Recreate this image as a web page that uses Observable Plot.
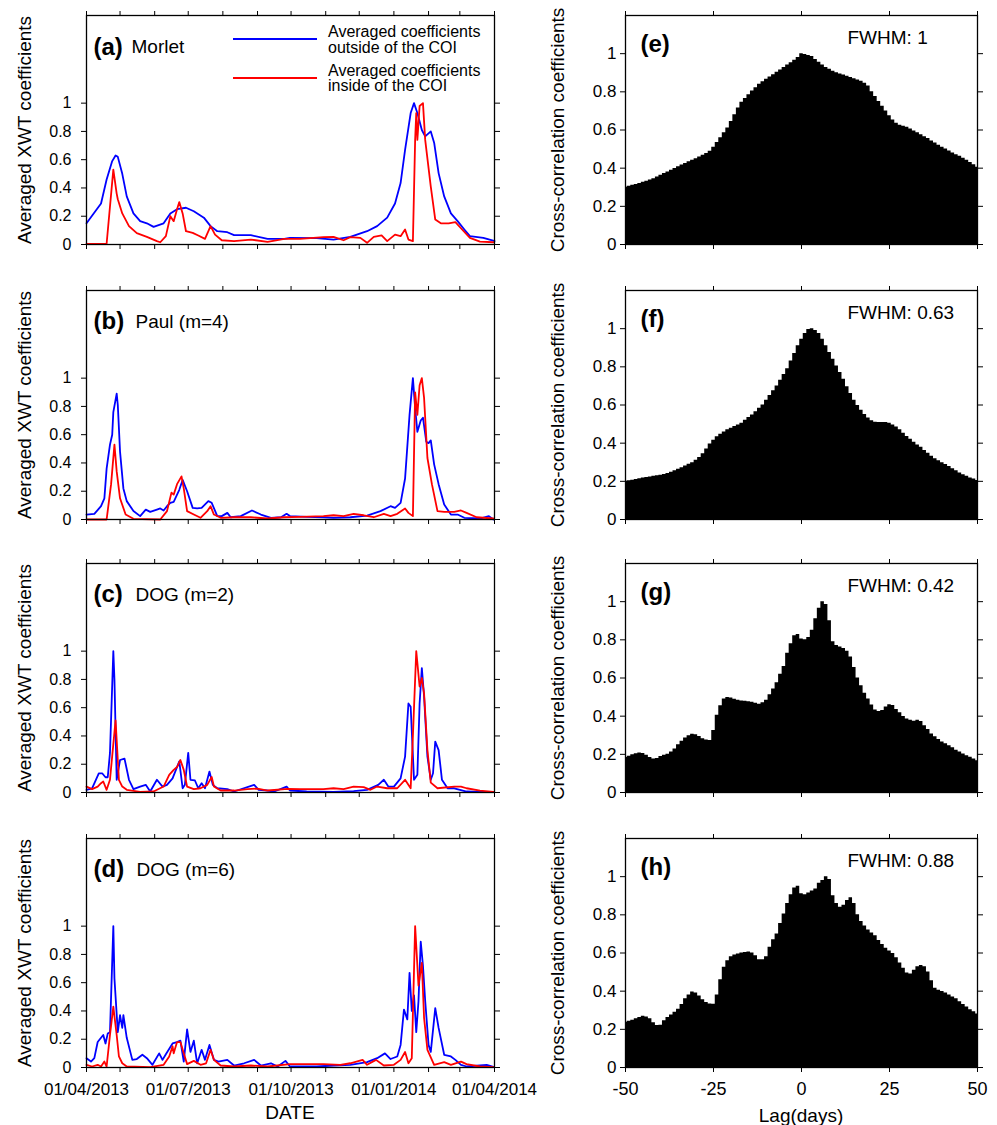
<!DOCTYPE html>
<html><head><meta charset="utf-8">
<script src="https://cdn.jsdelivr.net/npm/d3@7"></script>
<script src="https://cdn.jsdelivr.net/npm/@observablehq/plot@0.6"></script>
<style>
body{margin:0;background:#fff;font-family:"Liberation Sans",Arial,Helvetica,sans-serif;}
#chart{position:relative;width:997px;height:1125px;overflow:hidden;}
.t{position:absolute;white-space:nowrap;color:#000;line-height:1;}
.c{transform:translate(-50%,-50%);}
.r{transform:translate(-50%,-50%) rotate(-90deg);}
</style></head><body><div id="chart"></div>
<script>
// ---- Time-series data: [days since 01/04/2013, value] ----
const morletOutside = [[0,0.15],[13,0.29],[18,0.46],[23,0.59],[26,0.63],[28,0.62],[32,0.5],[36,0.34],[42,0.22],[48,0.165],[54,0.15],[60,0.125],[69,0.15],[75,0.22],[81,0.25],[89,0.26],[96,0.235],[105,0.19],[111,0.13],[117,0.094],[126,0.087],[132,0.066],[147,0.066],[162,0.04],[177,0.04],[182,0.047],[206,0.045],[221,0.035],[236,0.054],[251,0.094],[260,0.13],[269,0.19],[276,0.29],[281,0.435],[285,0.67],[290,0.93],[293,1.0],[296,0.93],[300,0.81],[303,0.765],[308,0.8],[311,0.72],[315,0.505],[320,0.34],[326,0.22],[332,0.165],[338,0.106],[343,0.059],[355,0.047],[363,0.03],[365,0.024]];
const morletInside = [[0,0.005],[18,0.005],[24,0.53],[27,0.36],[28,0.32],[32,0.22],[38,0.13],[45,0.08],[54,0.054],[63,0.024],[66,0.016],[71,0.059],[75,0.2],[78,0.165],[81,0.25],[83,0.3],[86,0.22],[89,0.094],[95,0.082],[100,0.064],[106,0.04],[111,0.13],[115,0.07],[121,0.03],[132,0.024],[147,0.035],[162,0.019],[177,0.04],[191,0.04],[212,0.052],[221,0.054],[230,0.03],[236,0.052],[245,0.047],[251,0.012],[257,0.054],[264,0.064],[269,0.024],[276,0.07],[281,0.059],[285,0.106],[288,0.035],[292,0.024],[294,0.74],[295,0.93],[296,0.74],[298,0.98],[301,1.0],[303,0.74],[308,0.41],[312,0.176],[317,0.15],[324,0.15],[330,0.158],[336,0.106],[343,0.047],[352,0.021],[364,0.016]];
const paulOutside = [[0,0.035],[7,0.04],[13,0.094],[16,0.15],[18,0.36],[21,0.53],[23,0.6],[24,0.76],[27,0.89],[28,0.81],[30,0.48],[33,0.22],[36,0.13],[42,0.06],[48,0.024],[53,0.07],[57,0.054],[63,0.07],[66,0.078],[69,0.064],[72,0.094],[75,0.118],[78,0.125],[83,0.21],[86,0.28],[90,0.2],[95,0.082],[99,0.078],[103,0.082],[109,0.13],[112,0.118],[117,0.024],[121,0.024],[126,0.047],[129,0.016],[138,0.024],[148,0.064],[156,0.035],[165,0.012],[174,0.016],[179,0.04],[182,0.024],[197,0.019],[212,0.016],[221,0.012],[236,0.016],[251,0.028],[263,0.059],[272,0.094],[276,0.082],[281,0.118],[285,0.29],[289,0.74],[292,1.0],[294,0.79],[296,0.62],[299,0.7],[301,0.72],[304,0.55],[306,0.54],[308,0.56],[311,0.39],[315,0.25],[320,0.106],[326,0.035],[332,0.035],[338,0.012],[352,0.007],[360,0.024],[364,0.0]];
const paulInside = [[0,0.0],[18,0.0],[22,0.25],[25,0.53],[27,0.34],[30,0.15],[35,0.035],[42,0.005],[66,0.0],[72,0.059],[76,0.19],[78,0.176],[81,0.25],[85,0.305],[87,0.22],[90,0.059],[96,0.035],[102,0.012],[108,0.059],[111,0.094],[114,0.035],[120,0.012],[132,0.016],[147,0.016],[162,0.007],[177,0.016],[191,0.019],[212,0.024],[221,0.03],[230,0.024],[239,0.04],[248,0.03],[257,0.016],[266,0.04],[272,0.024],[278,0.04],[285,0.078],[288,0.047],[292,0.024],[294,0.9],[296,0.74],[298,0.95],[300,1.0],[302,0.86],[305,0.435],[309,0.25],[314,0.059],[320,0.054],[329,0.054],[335,0.064],[340,0.047],[349,0.016],[364,0.007]];
const dog2Outside = [[0,0.019],[5,0.03],[11,0.136],[14,0.136],[17,0.108],[19,0.108],[21,0.28],[24,1.0],[25,0.8],[27,0.09],[30,0.23],[34,0.24],[38,0.09],[42,0.024],[48,0.042],[53,0.054],[57,0.007],[63,0.09],[68,0.042],[72,0.054],[77,0.1],[83,0.22],[86,0.03],[88,0.054],[91,0.28],[93,0.09],[97,0.085],[100,0.03],[103,0.066],[106,0.03],[110,0.148],[113,0.054],[117,0.03],[126,0.024],[132,0.007],[150,0.054],[154,0.019],[162,0.014],[168,0.007],[179,0.042],[182,0.014],[197,0.007],[221,0.005],[239,0.009],[251,0.019],[261,0.054],[266,0.09],[270,0.042],[275,0.042],[281,0.1],[285,0.254],[288,0.63],[290,0.607],[293,0.09],[296,0.125],[298,0.63],[300,0.88],[302,0.68],[305,0.254],[308,0.09],[310,0.136],[312,0.36],[315,0.3],[318,0.09],[323,0.03],[329,0.03],[340,0.007],[352,0.005],[364,0.005]];
const dog2Inside = [[0,0.042],[5,0.024],[10,0.042],[13,0.066],[15,0.078],[18,0.019],[21,0.09],[26,0.51],[29,0.09],[32,0.042],[36,0.019],[48,0.005],[60,0.007],[69,0.042],[74,0.125],[78,0.16],[81,0.18],[84,0.23],[87,0.16],[90,0.042],[96,0.024],[102,0.03],[108,0.054],[112,0.11],[114,0.042],[120,0.014],[132,0.014],[144,0.024],[153,0.028],[162,0.014],[180,0.026],[191,0.024],[212,0.024],[221,0.03],[230,0.024],[239,0.042],[248,0.038],[254,0.019],[260,0.042],[269,0.03],[278,0.03],[285,0.09],[290,0.03],[292,0.4],[295,1.0],[298,0.75],[300,0.81],[302,0.7],[305,0.3],[308,0.07],[314,0.03],[329,0.042],[335,0.042],[340,0.03],[352,0.014],[364,0.005]];
const dog6Outside = [[0,0.066],[4,0.042],[7,0.066],[10,0.18],[13,0.21],[15,0.23],[17,0.17],[19,0.24],[21,0.25],[24,1.0],[25,0.63],[28,0.25],[30,0.37],[32,0.28],[33,0.37],[36,0.21],[41,0.054],[45,0.06],[50,0.09],[54,0.066],[59,0.019],[65,0.1],[68,0.054],[71,0.094],[77,0.17],[81,0.18],[84,0.19],[87,0.042],[90,0.27],[93,0.11],[96,0.19],[99,0.03],[103,0.125],[106,0.054],[110,0.16],[114,0.054],[118,0.042],[126,0.054],[132,0.014],[141,0.03],[150,0.054],[156,0.014],[165,0.03],[171,0.007],[178,0.047],[182,0.007],[206,0.007],[221,0.014],[236,0.019],[251,0.038],[260,0.066],[267,0.1],[272,0.06],[278,0.078],[281,0.16],[284,0.41],[287,0.34],[289,0.67],[291,0.4],[293,0.51],[295,0.25],[297,0.47],[299,0.89],[301,0.72],[303,0.47],[306,0.16],[308,0.11],[312,0.42],[315,0.28],[320,0.09],[326,0.078],[330,0.054],[335,0.019],[340,0.007],[358,0.019],[364,0.005]];
const dog6Inside = [[0,0.019],[5,0.007],[10,0.019],[13,0.007],[16,0.042],[18,0.007],[21,0.23],[24,0.43],[27,0.23],[29,0.078],[32,0.03],[36,0.007],[57,0.002],[69,0.019],[74,0.078],[77,0.15],[78,0.1],[81,0.18],[84,0.18],[87,0.1],[90,0.024],[96,0.047],[102,0.019],[107,0.03],[111,0.125],[114,0.054],[120,0.014],[132,0.007],[147,0.014],[162,0.007],[182,0.024],[212,0.024],[227,0.019],[236,0.03],[247,0.054],[251,0.019],[259,0.054],[266,0.014],[275,0.019],[281,0.054],[285,0.11],[288,0.03],[291,0.066],[294,1.0],[297,0.58],[300,0.74],[302,0.35],[305,0.125],[311,0.019],[320,0.038],[326,0.019],[335,0.042],[340,0.024],[352,0.007],[364,0.002]];

// ---- Cross-correlation data: lags -50..50 ----
const lags = d3.range(-50, 51);
const ccMorlet = [.300,.305,.310,.315,.320,.326,.332,.338,.345,.354, .363,.372,.380,.389,.398,.407,.416,.425,.433,.442, .450,.459,.468,.477,.488,.510,.535,.560,.585,.610, .645,.680,.715,.745,.765,.785,.805,.822,.840,.853, .866,.878,.890,.902,.915,.928,.940,.953,.966,.980, 1.000, .995,.990,.985,.970,.955,.940,.928,.918,.908,.900, .894,.888,.882,.875,.868,.862,.855,.845,.830,.800, .775,.750,.725,.700,.675,.652,.635,.625,.620,.615, .605,.595,.585,.575,.565,.555,.543,.532,.520,.510, .500,.490,.480,.470,.462,.452,.442,.430,.418,.405];
const ccPaul = [.200,.203,.206,.210,.214,.217,.220,.223,.226,.229, .232,.236,.241,.248,.255,.263,.271,.280,.289,.298, .310,.325,.345,.370,.395,.415,.433,.447,.458,.470, .478,.487,.495,.505,.520,.535,.548,.565,.583,.600, .625,.650,.675,.700,.730,.760,.790,.830,.870,.910, .945, .975,.995,1.000,.990,.975,.945,.910,.875,.840,.805, .770,.735,.695,.660,.625,.598,.572,.550,.532,.518, .510,.508,.508,.508,.505,.495,.485,.470,.452,.435, .420,.405,.390,.378,.362,.347,.332,.318,.308,.298, .288,.278,.266,.255,.244,.235,.226,.218,.212,.205];
const ccDog2 = [.184,.190,.198,.203,.207,.205,.195,.183,.175,.178, .188,.195,.200,.212,.228,.250,.268,.285,.298,.305, .302,.293,.282,.275,.272,.325,.405,.455,.490,.498, .495,.489,.484,.480,.478,.476,.473,.468,.462,.470, .483,.512,.542,.575,.620,.660,.730,.780,.822,.828, .805, .800,.812,.850,.910,.965,1.000,.985,.900,.790,.770, .762,.755,.740,.710,.655,.600,.560,.520,.490,.458, .432,.425,.430,.448,.460,.456,.435,.418,.398,.385, .378,.374,.378,.372,.350,.330,.306,.292,.278,.264, .255,.245,.234,.222,.212,.202,.193,.185,.176,.166];
const ccDog6 = [.237,.242,.248,.255,.262,.268,.265,.255,.235,.220, .222,.245,.262,.275,.290,.305,.330,.360,.380,.395, .390,.375,.355,.340,.333,.332,.380,.460,.525,.560, .580,.590,.595,.600,.603,.605,.600,.585,.565,.565, .580,.630,.670,.700,.755,.805,.860,.905,.940,.950, .910, .905,.915,.925,.935,.965,.980,1.000,.985,.900,.860, .840,.850,.875,.890,.860,.800,.765,.742,.720,.705, .690,.665,.645,.625,.610,.598,.575,.548,.520,.495, .490,.510,.528,.535,.528,.500,.455,.415,.405,.398, .390,.380,.370,.360,.345,.330,.317,.303,.292,.280];

// ---- Labels ----
const leftTags = ["(a)", "(b)", "(c)", "(d)"];
const leftNames = ["Morlet", "Paul (m=4)", "DOG (m=2)", "DOG (m=6)"];
const rightTags = ["(e)", "(f)", "(g)", "(h)"];
const fwhmLabels = ["FWHM: 1", "FWHM: 0.63", "FWHM: 0.42", "FWHM: 0.88"];
const yTicks = [0, 0.2, 0.4, 0.6, 0.8, 1];
const lagTicks = [-50, -25, 0, 25, 50];
const legendLabels = [["Averaged coefficients", "outside of the COI"], ["Averaged coefficients", "inside of the COI"]];
const leftYTitle = "Averaged XWT coefficients";
const rightYTitle = "Cross-correlation coefficients";
const leftXTitle = "DATE";
const rightXTitle = "Lag(days)";

const outsideSeries = [morletOutside, paulOutside, dog2Outside, dog6Outside];
const insideSeries = [morletInside, paulInside, dog2Inside, dog6Inside];
const ccSeries = [ccMorlet, ccPaul, ccDog2, ccDog6];

// ---- Layout ----
const FONT = '"Liberation Sans", Arial, Helvetica, sans-serif';
const BLUE = "#0000ff", RED = "#ff0000";
const chart = document.getElementById("chart");
const rowTops = [15, 290, 563, 838];
const frameH = 229;
const nameDx = [45, 49, 49, 50];
const startDate = new Date(Date.UTC(2013, 3, 1));
const endDate = new Date(Date.UTC(2014, 3, 1));
const toDate = d => new Date(startDate.getTime() + d * 864e5);
const months = d3.utcMonth.range(startDate, d3.utcDay.offset(endDate, 1));
const quarters = d3.utcMonth.every(3).range(startDate, d3.utcDay.offset(endDate, 1));
const fmtY = d => String(+d.toFixed(1));
const blank = () => "";

function place(el, left, top) {
  el.style.position = "absolute";
  el.style.left = left + "px";
  el.style.top = top + "px";
  chart.appendChild(el);
}
function addText(txt, x, y, cls, size, extra) {
  const d = document.createElement("div");
  d.className = "t " + cls;
  d.textContent = txt;
  d.style.left = x + "px";
  d.style.top = y + "px";
  d.style.fontSize = size + "px";
  if (extra) Object.assign(d.style, extra);
  chart.appendChild(d);
  return d;
}

for (let i = 0; i < 4; i++) {
  const last = i === 3;
  const mt = 10, mb = last ? 60 : 10;
  // Left: time series
  const lm = [
    Plot.lineY(outsideSeries[i], {x: d => toDate(d[0]), y: d => d[1], stroke: BLUE, strokeWidth: 1.8}),
    Plot.lineY(insideSeries[i], {x: d => toDate(d[0]), y: d => d[1], stroke: RED, strokeWidth: 1.8}),
    Plot.frame({stroke: "black", strokeWidth: 1.3}),
    Plot.axisY({anchor: "left", ticks: yTicks, tickSize: 5, tickPadding: 10, tickFormat: fmtY, label: null, fontSize: 16}),
    Plot.axisY({anchor: "right", ticks: yTicks, tickSize: 5, tickFormat: blank, label: null}),
    Plot.axisX({anchor: "top", ticks: months, tickSize: 5, tickFormat: blank, label: null}),
    Plot.axisX({anchor: "bottom", ticks: months, tickSize: 5, tickFormat: blank, label: null}),
    Plot.text([leftTags[i]], {frameAnchor: "top-left", dx: 7, dy: i === 0 ? 32 : 31, fontSize: 24, fontWeight: "bold", textAnchor: "start", lineAnchor: "middle"}),
    Plot.text([leftNames[i]], {frameAnchor: "top-left", dx: nameDx[i], dy: i === 0 ? 31 : 31, fontSize: 19, textAnchor: "start", lineAnchor: "middle"})
  ];
  if (last) lm.push(Plot.axisX({anchor: "bottom", ticks: quarters, tickSize: 0, tickPadding: 15, tickFormat: d3.utcFormat("%d/%m/%Y"), label: null, fontSize: 17}));
  const lp = Plot.plot({
    width: 545, height: mt + frameH + mb,
    marginLeft: 86, marginRight: 51, marginTop: mt, marginBottom: mb,
    x: {type: "utc", domain: [startDate, endDate]},
    y: {domain: [0, 1.62]},
    style: {fontSize: "16px", fontFamily: FONT, background: "transparent", color: "black", overflow: "visible"},
    marks: lm
  });
  place(lp, 0, rowTops[i] - mt);

  // Right: cross-correlation step areas
  const vals = ccSeries[i];
  const rm = [
    Plot.areaY(lags, {x: d => d, y: (d, j) => vals[j], curve: "step", fill: "black"}),
    Plot.frame({stroke: "black", strokeWidth: 1.3}),
    Plot.axisY({anchor: "left", ticks: yTicks, tickSize: 5, tickPadding: 4, tickFormat: fmtY, label: null, fontSize: 17}),
    Plot.axisY({anchor: "right", ticks: yTicks, tickSize: 5, tickFormat: blank, label: null}),
    Plot.axisX({anchor: "top", ticks: lagTicks, tickSize: 5, tickFormat: blank, label: null}),
    Plot.axisX({anchor: "bottom", ticks: lagTicks, tickSize: 5, tickPadding: last ? 10 : 3, tickFormat: last ? (d => String(d)) : blank, label: null, fontSize: 18}),
    Plot.text([rightTags[i]], {frameAnchor: "top-left", dx: 15, dy: 29, fontSize: 24, fontWeight: "bold", textAnchor: "start", lineAnchor: "middle"}),
    Plot.text([fwhmLabels[i]], {frameAnchor: "top-left", dx: 222, dy: 22, fontSize: 19, textAnchor: "start", lineAnchor: "middle"})
  ];
  const rp = Plot.plot({
    width: 457, height: mt + frameH + mb,
    marginLeft: 85, marginRight: 20, marginTop: mt, marginBottom: mb,
    x: {domain: [-50, 50]},
    y: {domain: [0, 1.2]},
    style: {fontSize: "16px", fontFamily: FONT, background: "transparent", color: "black", overflow: "visible"},
    marks: rm
  });
  place(rp, 540, rowTops[i] - mt);

  // Axis titles
  addText(leftYTitle, 24, rowTops[i] + frameH / 2, "r", 19);
  addText(rightYTitle, 557, rowTops[i] + frameH / 2, "r", 19);
}
addText(leftXTitle, 290, 1112, "c", 19);
addText(rightXTitle, 801, 1115, "c", 19);

// Legend in panel (a)
const swatch = (color, top) => {
  const s = document.createElement("div");
  Object.assign(s.style, {position: "absolute", left: "233px", top: top + "px", width: "84px", height: "0", borderTop: "2px solid " + color});
  chart.appendChild(s);
};
swatch(BLUE, 38);
swatch(RED, 76.5);
[[legendLabels[0], 24], [legendLabels[1], 62.5]].forEach(([lines, top]) => {
  const d = addText("", 328, top, "", 16, {lineHeight: "15.5px"});
  d.innerHTML = "";
  lines.forEach((ln, k) => {
    const s = document.createElement("div");
    s.textContent = ln;
    d.appendChild(s);
  });
});
</script></body></html>
